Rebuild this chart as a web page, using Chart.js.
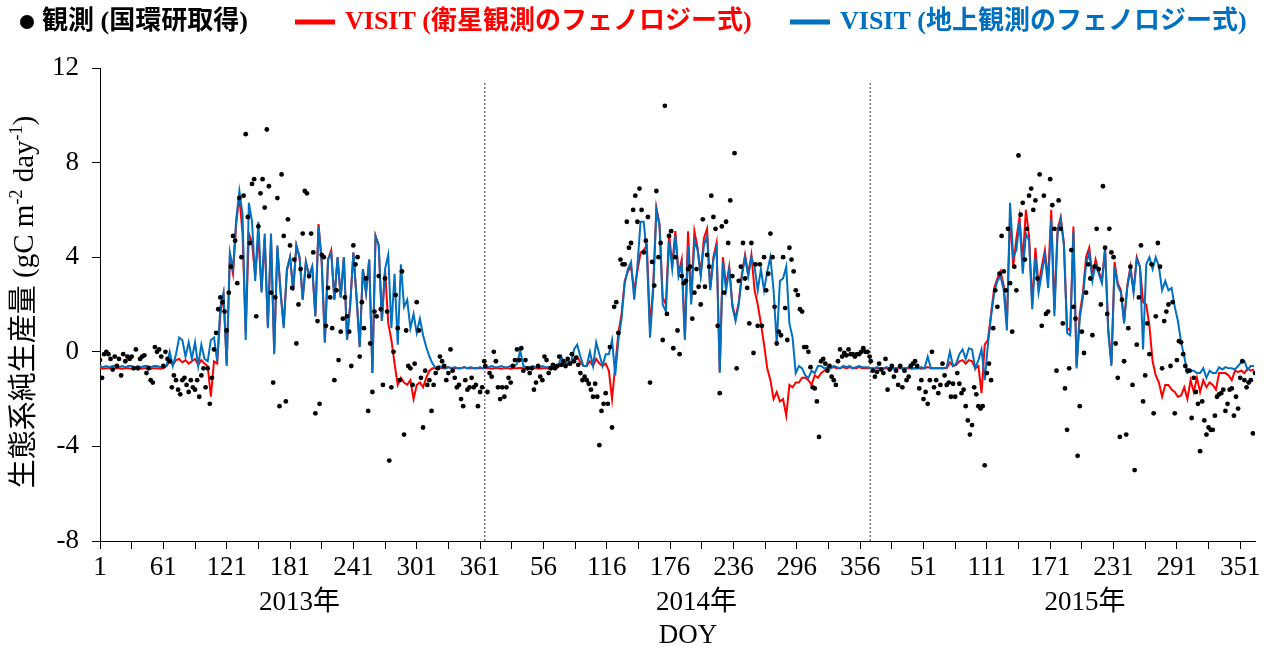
<!DOCTYPE html>
<html>
<head>
<meta charset="utf-8">
<script src="https://cdn.jsdelivr.net/npm/chart.js@4.4.0/dist/chart.umd.min.js"></script>
<style>
  html, body { margin: 0; padding: 0; background: #fff; }
  #wrap { width: 1268px; height: 652px; }
</style>
</head>
<body>
<div id="wrap"><canvas id="nep" width="1268" height="652"></canvas></div>
<script>
// 年 (x軸は 2013/1/1 からの通し日)
const yearLabels = ['2013年', '2014年', '2015年'];
const yearStart = [0, 365, 730];
const yearBoundaries = [365.5, 730.5];
const doyTickLabels = ['1', '61', '121', '181', '241', '301', '361', '56', '116', '176', '236', '296', '356', '51', '111', '171', '231', '291', '351'];
const yTicks = [-8, -4, 0, 4, 8, 12];

// VISIT はDOY 1,4,7,...(3日ごと), 観測はDOY 1,3,5,...(2日ごと)
const modelStep = 3;
const obsStep = 2;

// VISIT (地上観測のフェノロジー式)
const visitGround2013 = [
  -0.6,-0.65,-0.6,-0.65,-0.6,-0.6,-0.65,-0.6,-0.65,-0.6,-0.6,-0.65,-0.6,-0.65,-0.6,-0.6,-0.65,-0.6,-0.6,-0.65,-0.6,
  -0.6,0.0,-0.6,-0.1,0.6,0.5,-0.2,0.4,-0.3,0.4,-0.6,0.3,-0.3,-0.4,0.5,0.6,-0.4,
  1.9,2.5,-0.6,4.2,3.5,5.6,6.8,5.8,0.5,6.3,5.5,3.0,5.5,2.5,5.0,1.0,5.0,-0.1,4.5,2.5,1.0,3.5,4.0,
  2.6,4.5,4.0,2.2,3.8,3.2,3.6,1.5,5.3,3.8, 0.4,3.9,4.2,2.2,4.0,2.3,4.0,0.5,2.0,4.2,
  2.3,0.2,3.5,2.5,3.9,-0.9,4.9,4.5,1.3,3.5, 4.1,1.0,3.3,0.3,3.7,1.9,2.2,1.0,1.6,0.8,
  1.4,0.7,0.2,-0.2,-0.5,-0.7,-0.6,-0.65,-0.7,-0.65, -0.7,-0.65,-0.7,-0.7,-0.65,-0.7,-0.65,-0.7,-0.7,-0.65, -0.7
];
const visitGround2014 = [
  -0.65,-0.65,-0.6,-0.65,-0.65,-0.6,-0.65,-0.65,-0.6,-0.65,-0.5,0.05,-0.6,-0.65,-0.65,-0.6,-0.65,-0.65,-0.6,-0.65,-0.65,-0.6,-0.65,
  -0.6,-0.2,-0.6,-0.35,-0.5,0.1,0.3,-0.2,-0.6,-0.6,0.0,-0.6,0.4,-0.1,-0.6,-0.1,-0.1,0.5,-1.0,0.5,
  1.4,2.9,3.5,3.8,2.2,3.6,5.5,5.5,4.1,0.6,2.6,6.0,5.3,2.0,1.7,4.7,3.5,4.9,3.2,
  3.7,0.5,4.5,2.0,4.7,4.3,3.2,4.5,4.9,2.6, 3.9,4.4,-0.9,3.8,2.6,3.5,1.9,1.3,2.0,3.2,
  4.0,3.2,4.0,3.6,2.6,3.5,2.6,3.4,4.0,2.6, 0.35,3.0,3.1,3.6,1.2,0.6,-0.9,-0.6,-0.7,-1.0,
  -1.1,-0.8,-0.9,-0.6,-0.6,-0.7,-0.65,-0.7,-0.6,-0.65, -0.7,-0.6,-0.65,-0.6,-0.7,-0.65,-0.6,-0.65,-0.65,-0.65
];
const visitGround2015 = [
  -0.7,-0.7,-0.65,-0.7,-0.7,-0.65,-0.7,-0.7,-0.7,-0.65,-0.7,-0.7,-0.65,-0.7,-0.7,-0.7,-0.65,-0.7,
  -0.2,-0.7,-0.7,-0.7,-0.7,-0.7,-0.65,0.0,-0.6,-0.5,-0.1,0.1,-0.3,0.15,0.1,-0.7,-0.35,0.1,-1.2,0.3,
  1.5,2.5,3.0,3.2,2.6,0.9,6.3,4.0,4.3,5.5,3.3,5.0,4.7,1.8,4.0,2.5,3.3,4.1,2.7,5.6,1.5,5.0,5.6,4.5,
  0.8,0.7,5.1,-0.7,1.4,2.3,3.7,4.2,3.0,3.7, 3.3,2.9,4.3,0.8,-0.6,3.6,2.8,2.5,1.2,2.7,
  3.5,2.5,3.9,3.6,0.1,3.7,4.0,3.5,4.0,3.6, 2.6,3.0,2.6,2.7,1.9,1.3,0.4,-0.2,-0.9,-0.8,
  -0.8,-0.9,-0.9,-0.7,-1.1,-0.8,-0.9,-0.9,-0.65,-0.75, -0.65,-0.7,-0.7,-0.75,-0.6,-0.45,-0.4,-0.75,-0.6,-0.6
];

// VISIT (衛星観測のフェノロジー式)
const visitSat2013 = [
  -0.7,-0.72,-0.7,-0.7,-0.72,-0.7,-0.7,-0.72,-0.7,-0.7,-0.72,-0.7,-0.7,-0.72,-0.7,-0.7,-0.72,-0.7,-0.7,-0.72,-0.7,
  -0.6,-0.4,-0.55,-0.35,-0.3,-0.45,-0.35,-0.5,-0.4,-0.3,-0.55,-0.35,-0.5,-0.6,-1.9,-0.4,-0.5,
  1.6,2.4,-0.5,4.0,3.3,5.4,6.6,5.0,0.8,5.0,4.6,3.2,4.9,2.6,4.8,1.1,4.8,0.0,4.4,2.6,1.1,3.4,4.0,
  2.6,4.5,4.0,2.2,3.8,3.2,3.6,1.5,5.4,3.8, 0.4,3.9,4.3,2.2,4.0,2.3,4.0,0.5,2.0,4.2,
  2.3,0.2,3.5,2.5,3.9,-0.9,4.9,4.5,1.3,3.5,
  1.2,0.5,-0.5,-1.4,-1.1,-1.3,-1.4,-1.2,-2.0,-1.4, -1.3,-1.5,-1.1,-0.8,-0.7,-0.7,-0.65,-0.7,-0.7,-0.65,
  -0.7,-0.7,-0.7,-0.7,-0.65,-0.7,-0.7,-0.7,-0.7,-0.7, -0.7
];
const visitSat2014 = [
  -0.7,-0.7,-0.72,-0.7,-0.7,-0.72,-0.7,-0.7,-0.72,-0.7,-0.7,-0.68,-0.7,-0.7,-0.72,-0.7,-0.7,-0.72,-0.7,-0.7,-0.72,-0.7,-0.7,
  -0.65,-0.5,-0.6,-0.5,-0.55,-0.3,-0.2,-0.45,-0.6,-0.6,-0.4,-0.6,-0.3,-0.5,-0.6,-0.5,-0.8,-2.0,-0.6,0.8,
  1.6,3.0,3.4,3.6,2.6,3.4,4.2,4.3,4.5,1.0,2.8,6.1,5.4,2.3,2.0,5.0,3.7,5.1,3.3,
  3.9,0.6,5.1,2.2,5.1,4.4,3.3,4.8,5.2,2.7, 4.0,4.6,-0.8,4.0,2.8,3.6,2.0,1.4,2.1,3.3, 4.1,3.3,4.1,
  2.6,2.0,1.2,0.3,-0.7,-1.2,-2.0,-1.7,-2.1,-2.0, -2.7,-1.4,-1.5,-1.3,-1.3,-1.1,-1.1,-1.2,-1.4,-1.0,
  -1.1,-0.9,-0.8,-0.7,-0.7,-0.65,-0.7,-0.7,-0.65,-0.7, -0.65,-0.7,-0.7,-0.65,-0.7,-0.7,-0.7
];
const visitSat2015 = [
  -0.7,-0.72,-0.7,-0.7,-0.72,-0.7,-0.7,-0.72,-0.7,-0.7,-0.72,-0.7,-0.7,-0.72,-0.7,-0.7,-0.72,-0.7,
  -0.65,-0.7,-0.7,-0.7,-0.7,-0.7,-0.7,-0.45,-0.6,-0.55,-0.4,-0.35,-0.5,-0.35,-0.4,-0.7,-0.6,-1.75,0.3,0.5,
  1.6,2.7,3.1,3.4,2.8,1.2,5.8,3.6,4.8,5.7,3.8,6.0,4.9,2.0,4.4,2.8,3.6,4.3,3.0,6.0,1.8,5.2,5.7,4.6,
  1.0,0.9,5.3,-0.6,1.6,2.5,4.0,4.4,3.2,3.9, 3.4,3.0,4.4,1.0,-0.5,3.8,2.9,2.6,1.3,2.8, 3.6,2.6,4.0,3.6,
  2.1,2.0,1.1,-0.4,-1.0,-1.3,-1.9,-1.4,-1.4,-1.6, -1.7,-1.9,-1.85,-1.5,-2.0,-1.2,-1.7,-1.1,-1.7,-1.2,
  -1.5,-1.3,-1.4,-1.6,-0.9,-0.9,-0.9,-1.0,-1.2,-0.8, -0.85,-0.8,-0.9,-0.7,-0.8,-0.75
];

// 観測 (国環研取得)
const obs2013 = [
  -0.35,-1.1,-0.1,0.0,-0.1,-0.3,-0.75,-0.2,-0.6,-0.3, -1.0,-0.1,-0.4,-0.2,-0.3,-0.2,-0.7,0.1,-0.7,-0.3,
  -0.2,-0.15,-0.9,-0.7,-1.2,-1.3,0.2,0.0,0.1,-0.2, -0.6,0.0,-0.3,-0.4,-1.5,-1.0,-1.2,-1.6,-1.8,-1.2,
  -1.1,-1.4,-1.7,-1.2,-1.5,-1.6,-1.2,-1.9,-1.0,-0.7, -1.5,-0.7,-2.2,-1.1,0.1,
  0.8,1.8,2.3,2.1,1.7,0.9,2.5,3.6,4.9,4.7, 2.9,6.5,4.0,6.6,9.2,5.7,4.6,7.1,7.3,1.5,
  5.3,6.7,7.3,6.1,9.4,7.0,2.5,-1.3,2.3,6.5, -2.3,7.5,4.9,-2.1,5.6,4.5,
  2.7,3.9,0.35,2.0,3.5,5.0,6.8,6.7,3.2,5.0, 4.2,-2.6,1.3,-2.2,4.1,4.0,1.1,2.7,2.3,1.0,
  -1.2,2.6,-0.35,0.85,1.4,2.3,1.5,0.85,-0.6,4.5, 3.7,4.0,-0.2,2.1,1.0,3.1,-2.5,0.35,-1.7,1.7,
  1.5,3.2,1.8,-1.4,3.1,1.7,-4.6,-1.5,0.0,2.4, 1.0,-1.2,3.4,-3.5,0.9,-0.6,-0.7,-1.4,-0.5,2.1,
  0.9,-1.1,-3.2,-0.8,-1.4,-1.2,-2.5,-1.4,-0.9,-0.7, -0.2,-0.4,-0.6,-1.2,-0.9,0.1,-0.8,-1.1,-1.5,-1.4,
  -2.0,-2.3,-1.2,-1.6,-1.5,-1.1,-1.5,-1.4,-2.3,-1.7, -1.5,-0.4
];
const obs2014 = [
  -0.6,-1.7,-0.9,-1.05,0.0,-0.4,-1.5,-2.0,-1.5,-1.9, -1.5,-1.1,-1.3,-0.6,-0.35,0.1,-0.35,0.15,-0.8,-0.35,
  -0.7,-0.9,-0.7,-1.6,-1.3,-0.6,-1.05,-1.2,-0.2,-0.35, -0.9,-0.7,-0.55,-0.7,-0.6,-0.2,-0.55,-0.4,-0.6,-0.3,
  -0.5,-0.1,-0.4,-0.25,-0.55,-0.9,-1.2,-1.05,-1.2,-1.35, -1.6,-1.9,-1.35,-1.9,-3.95,-2.5,-2.2,-1.75,-2.2,0.2,
  -3.2,1.9,2.1,0.8,3.9,3.7,3.7,5.5,4.4,4.6, 6.0,6.6,5.5,6.9,6.0,4.2,4.7,5.7,-1.3,3.8,
  2.8,6.8,4.0,4.6,0.5,10.4,1.6,4.9,5.1,0.15, 4.0,0.9,-0.1,3.2,2.9,3.0,3.5,3.6,1.4,2.5,
  3.5,2.75,2.0,5.6,2.75,4.1,3.6,6.6,5.7,5.2, 1.1,-1.75,5.3,2.5,5.5,4.6,6.4,3.2,8.4,-0.7,
  3.0,3.6,4.6,3.1,2.7,1.2,4.6,-0.05,3.7,1.1, 3.7,1.1,4.0,2.6,3.3,5.0,4.0,1.9,0.35,0.85,
  0.7,4.0,1.85,0.5,4.4,3.9,3.4,2.6,2.4,1.8, 1.7,0.2,0.2,0.0,-0.65,-1.5,-1.55,-2.1,-3.6,-0.4,
  -0.3,-0.5,-0.8,-0.6,-1.05,-1.2,-1.4,-0.4,0.1,-0.2, -0.05,-0.15,0.1,-0.1,-0.1,-0.2,-0.1,-0.1,0.0,0.15,
  0.0,0.0,-0.2
];
const obs2015 = [
  -0.4,-0.8,-1.05,-0.85,-0.5,-0.75,-0.9,-0.3,-1.6,-0.75, -0.6,-1.05,-0.8,-1.4,-0.6,-1.5,-0.8,-1.2,-1.05,-0.6,
  -0.5,-0.4,-0.6,-1.55,-1.2,-2.0,-1.7,-2.2,-1.2,0.0, -1.5,-1.2,-1.75,-1.4,-0.5,-1.0,-1.4,-1.3,-1.9,-1.35,
  -1.9,-0.9,-1.35,-1.75,-1.6,-2.3,-2.9,-3.5,-3.1,-1.5, -1.8,-2.3,-2.4,-2.3,-4.8,-0.9,-0.5,-1.2,1.0,2.6,
  1.9,3.3,4.9,3.4,2.6,5.2,2.9,0.85,3.6,2.6, 8.3,5.8,6.3,3.9,5.2,6.6,6.9,6.0,6.4,3.1,
  7.5,1.1,6.6,1.6,1.7,7.3,6.2,5.2,-0.8,6.4, 5.2,1.2,-1.55,-3.3,-0.7,4.3,1.9,1.4,-4.4,-2.3,
  0.85,-0.05,2.5,3.7,3.1,0.7,3.6,5.2,3.5,2.0, 7.0,4.4,1.6,5.2,4.2,4.0,0.35,-1.1,-3.6,2.2,
  -0.4,-3.5,1.0,3.6,-1.4,-5.0,0.3,2.3,4.5,-2.1, -1.0,1.2,-0.1,3.7,-2.6,1.5,4.6,3.6,-0.7,1.3,
  1.7,2.0,-0.6,2.1,-2.6,-0.35,0.45,0.4,-0.1,-0.6, -0.8,-0.8,-2.8,-1.1,-1.7,-2.2,-4.2,-2.1,-2.9,-3.5,
  -3.2,-3.3,-3.3,-2.7,-1.9,-1.8,-1.75,-1.6,-2.5,-2.2, -1.6,-1.55,-2.7,-1.9,-2.4,-1.1,-0.4,-1.2,-1.5,-1.3,
  -1.2,-3.45,-0.9
];

const visitGround = [visitGround2013, visitGround2014, visitGround2015];
const visitSat = [visitSat2013, visitSat2014, visitSat2015];
const obs = [obs2013, obs2014, obs2015];

function toPoints(perYear, step) {
  const pts = [];
  perYear.forEach((vals, yi) => {
    vals.forEach((v, i) => pts.push({ x: yearStart[yi] + 1 + i * step, y: v }));
  });
  return pts;
}

const serif = '"Liberation Serif", "Noto Sans CJK JP", serif';
const xTickValues = [];
for (let v = 1; v <= 1081; v += 30) xTickValues.push(v);

const nepText = {
  id: 'nepText',
  afterDraw(chart) {
    const ctx = chart.ctx;
    const xs = chart.scales.x;
    ctx.save();

    // 凡例
    ctx.textBaseline = 'middle';
    ctx.textAlign = 'left';
    ctx.font = 'bold 26px ' + serif;
    ctx.fillStyle = '#000';
    ctx.beginPath();
    ctx.arc(27, 22, 7, 0, Math.PI * 2);
    ctx.fill();
    ctx.fillText('観測 (国環研取得)', 42, 22);
    ctx.fillStyle = '#FF0000';
    ctx.fillRect(295, 19.5, 40, 5);
    ctx.fillText('VISIT (衛星観測のフェノロジー式)', 345, 22);
    ctx.fillStyle = '#0070C0';
    ctx.fillRect(790, 19.5, 40, 5);
    ctx.fillText('VISIT (地上観測のフェノロジー式)', 840, 22);

    // 年ラベルとDOY
    ctx.fillStyle = '#000';
    ctx.textAlign = 'center';
    ctx.font = '27px ' + serif;
    [190, 566, 934].forEach((v, i) => {
      ctx.fillText(yearLabels[i], xs.getPixelForValue(v), 603);
    });
    ctx.fillText('DOY', 688, 636);

    // 縦軸タイトル (上付き文字あり)
    const parts = [
      ['生態系純生産量 (gC m', false],
      ['-2', true],
      [' day', false],
      ['-1', true],
      [')', false]
    ];
    const big = '29px ' + serif;
    const small = '18px ' + serif;
    let total = 0;
    parts.forEach(p => { ctx.font = p[1] ? small : big; total += ctx.measureText(p[0]).width; });
    ctx.translate(25, 302);
    ctx.rotate(-Math.PI / 2);
    ctx.textAlign = 'left';
    let x = -total / 2;
    parts.forEach(p => {
      ctx.font = p[1] ? small : big;
      ctx.fillText(p[0], x, p[1] ? -8 : 0);
      x += ctx.measureText(p[0]).width;
    });
    ctx.restore();
  }
};

const datasets = [
  {
    label: '観測 (国環研取得)',
    data: toPoints(obs, obsStep),
    showLine: false,
    pointRadius: 2.4,
    pointBackgroundColor: '#000',
    pointBorderWidth: 0,
    order: 0
  },
  {
    label: 'VISIT (地上観測のフェノロジー式)',
    data: toPoints(visitGround, modelStep),
    borderColor: '#0070C0',
    borderWidth: 2,
    pointRadius: 0,
    tension: 0,
    order: 1
  },
  {
    label: 'VISIT (衛星観測のフェノロジー式)',
    data: toPoints(visitSat, modelStep),
    borderColor: '#FF0000',
    borderWidth: 2,
    pointRadius: 0,
    tension: 0,
    order: 2
  }
];
yearBoundaries.forEach(b => {
  datasets.push({
    label: 'boundary',
    data: [{ x: b, y: -8 }, { x: b, y: 11.4 }],
    borderColor: '#333',
    borderWidth: 1,
    borderDash: [2, 2],
    pointRadius: 0,
    order: 3
  });
});

new Chart(document.getElementById('nep'), {
  type: 'line',
  data: { datasets },
  options: {
    responsive: false,
    animation: false,
    layout: { padding: { top: 68, right: 13, bottom: 0, left: 0 } },
    plugins: { legend: { display: false }, tooltip: { enabled: false } },
    scales: {
      x: {
        type: 'linear',
        min: 1,
        max: 1095,
        afterBuildTicks(scale) { scale.ticks = xTickValues.map(v => ({ value: v })); },
        afterFit(scale) { scale.height = 111; },
        grid: { drawOnChartArea: false, tickLength: 8, color: '#000' },
        border: { color: '#000', width: 1 },
        ticks: {
          autoSkip: false,
          maxRotation: 0,
          padding: 3,
          color: '#000',
          font: { family: serif, size: 27 },
          callback: v => ((v - 1) % 60 === 0 ? doyTickLabels[(v - 1) / 60] : '')
        }
      },
      y: {
        min: -8,
        max: 12,
        afterBuildTicks(scale) { scale.ticks = yTicks.map(v => ({ value: v })); },
        afterFit(scale) { scale.width = 100; },
        grid: { drawOnChartArea: false, tickLength: 8, color: '#000' },
        border: { color: '#000', width: 1 },
        ticks: {
          padding: 13,
          color: '#000',
          font: { family: serif, size: 27 }
        }
      }
    }
  },
  plugins: [nepText]
});
</script>
</body>
</html>
